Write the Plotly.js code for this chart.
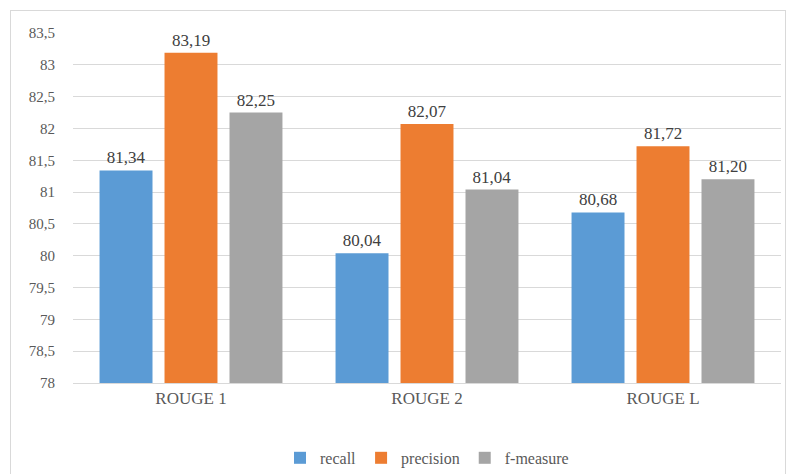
<!DOCTYPE html>
<html>
<head>
<meta charset="utf-8">
<script src="https://cdn.plot.ly/plotly-3.0.1.min.js"></script>
<style>
html,body{margin:0;padding:0;background:#fff;}
#wrap{position:relative;width:795px;height:474px;}
#chart{width:795px;height:474px;}
#frame{position:absolute;left:10px;top:10px;width:774px;height:470px;border:1px solid #d9d9d9;pointer-events:none;}
</style>
</head>
<body>
<div id="wrap"><div id="chart"></div><div id="frame"></div></div>
<script>
const categories = ["ROUGE 1", "ROUGE 2", "ROUGE L"];
const recall = [81.34, 80.04, 80.68];
const precision = [83.19, 82.07, 81.72];
const fmeasure = [82.25, 81.04, 81.20];
const seriesNames = ["recall", "precision", "f-measure"];
const yTicks = [78, 78.5, 79, 79.5, 80, 80.5, 81, 81.5, 82, 82.5, 83, 83.5];

const colors = ["#5B9BD5", "#ED7D31", "#A5A5A5"];
const seriesVals = [recall, precision, fmeasure];
const FONT = "Liberation Serif";

const traces = seriesVals.map((vals, i) => ({
  type: "bar",
  name: seriesNames[i],
  x: categories,
  y: vals,
  marker: {color: colors[i]},
  texttemplate: "%{y:.2f}",
  textposition: "outside",
  cliponaxis: false,
  textfont: {family: FONT, size: 17, color: "#404040"},
  hoverinfo: "skip"
}));

const layout = {
  width: 795, height: 474,
  margin: {l: 73, r: 14, t: 33, b: 91, autoexpand: false},
  paper_bgcolor: "#ffffff",
  plot_bgcolor: "#ffffff",
  separators: ", ",
  barmode: "group",
  bargap: 0.174,
  bargroupgap: 0.185,
  showlegend: true,
  legend: {orientation: "h", x: 0.5, xanchor: "center", y: -0.214, yanchor: "middle",
           font: {family: FONT, size: 16, color: "#595959"}},
  xaxis: {
    type: "category", automargin: false,
    tickfont: {family: FONT, size: 17, color: "#595959"},
    showline: true, linecolor: "#d9d9d9", linewidth: 1,
    ticks: "", showgrid: false
  },
  yaxis: {
    range: [78, 83.5], automargin: false,
    tickvals: yTicks,
    tickfont: {family: FONT, size: 15, color: "#595959"},
    gridcolor: "#d9d9d9", gridwidth: 1,
    zeroline: false, showline: false,
    ticks: "outside", ticklen: 14, tickcolor: "rgba(0,0,0,0)"
  }
};

Plotly.newPlot("chart", traces, layout, {displayModeBar: false, staticPlot: true});
</script>
</body>
</html>
